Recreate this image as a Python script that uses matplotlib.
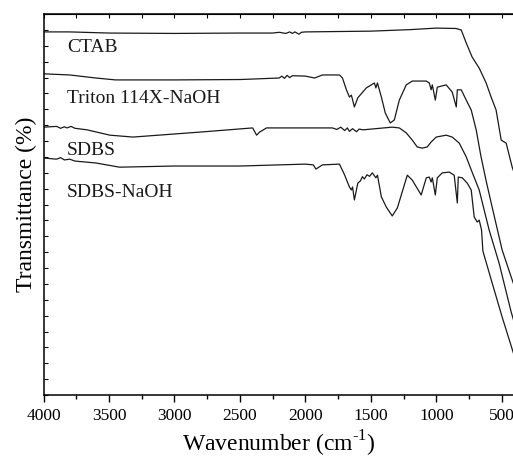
import matplotlib.pyplot as plt
import numpy as np

plt.rcParams['font.family'] = ['Liberation Serif', 'DejaVu Serif']
plt.rcParams['mathtext.fontset'] = 'custom'
plt.rcParams['mathtext.rm'] = 'Liberation Serif'

# wavenumber (cm-1) and transmittance (arbitrary, offset curves)
ctab_wn = [4000, 3800, 3500, 3000, 2500, 2250, 2200, 2150, 2120, 2100, 2080, 2050, 2030,
           2000, 1500, 1200, 1000, 850, 810, 772, 727, 673, 620, 582, 544, 505, 467, 421, 400]
ctab_t = [95.3, 95.3, 95.0, 94.9, 95.0, 95.0, 95.2, 94.9, 95.3, 94.9, 95.3, 94.7, 95.2,
          95.3, 95.5, 95.9, 96.3, 96.2, 95.8, 92.4, 88.7, 85.8, 81.9, 78.2, 74.8, 66.9, 66.1, 59.8, 57.7]

triton_wn = [4000, 3800, 3600, 3450, 3000, 2500, 2200, 2180, 2160, 2140, 2120, 2100, 2000,
             1930, 1870, 1740, 1717, 1687, 1664, 1649, 1626, 1600, 1535, 1473, 1462, 1450,
             1420, 1390, 1352, 1321, 1283, 1230, 1184, 1077, 1054, 1040, 1031, 1008, 993,
             925, 879, 848, 840, 810, 772, 734, 696, 660, 620, 574, 498, 429, 400]
triton_t = [84.3, 84.0, 83.2, 82.7, 82.7, 82.8, 83.2, 83.7, 83.1, 83.9, 83.3, 83.8, 83.7,
            83.2, 84.0, 84.0, 83.2, 80.1, 78.2, 78.7, 75.6, 78.0, 80.6, 81.9, 80.6, 81.9,
            78.2, 74.0, 71.4, 72.2, 77.4, 81.4, 82.4, 82.4, 81.9, 80.1, 81.4, 77.4, 80.8,
            81.4, 79.5, 75.6, 80.1, 80.1, 77.4, 74.8, 69.6, 62.7, 56.2, 49.3, 38.1, 31.0, 28.1]

sdbs_wn = [4000, 3900, 3870, 3840, 3821, 3790, 3760, 3668, 3493, 3317, 2807, 2403, 2373,
           2350, 2297, 1794, 1760, 1730, 1700, 1680, 1664, 1640, 1610, 1590, 1560, 1337,
           1283, 1230, 1184, 1146, 1108, 1070, 1040, 1001, 925, 879, 825, 772, 734, 673,
           597, 521, 429, 400]
sdbs_t = [70.3, 70.5, 70.0, 70.4, 70.1, 70.5, 70.0, 69.6, 68.2, 67.7, 69.0, 70.1, 68.2,
          69.0, 70.1, 70.1, 69.7, 70.3, 69.4, 70.1, 69.2, 69.9, 69.1, 69.8, 69.6, 70.3,
          70.1, 68.8, 66.9, 65.1, 64.8, 65.1, 66.4, 67.7, 68.2, 67.7, 66.1, 62.5, 59.1, 53.8,
          43.3, 34.6, 21.8, 18.4]

sdbsna_wn = [4000, 3900, 3870, 3840, 3800, 3760, 3600, 3420, 3000, 2500, 2200, 2000, 1940,
             1920, 1870, 1740, 1700, 1664, 1649, 1640, 1626, 1600, 1580, 1565, 1550, 1530,
             1510, 1489, 1462, 1450, 1420, 1382, 1337, 1298, 1222, 1184, 1116, 1077, 1054,
             1040, 1031, 1008, 993, 955, 902, 864, 840, 833, 802, 764, 734, 711, 688, 673,
             655, 645, 574, 498, 429, 400]
sdbsna_t = [62.2, 61.9, 62.3, 61.7, 61.9, 61.4, 60.9, 59.8, 60.1, 60.1, 60.4, 60.6, 60.4,
            59.3, 60.4, 60.6, 57.7, 54.6, 53.8, 54.6, 51.2, 55.6, 56.2, 57.3, 56.7, 57.8,
            57.4, 58.3, 57.0, 57.7, 52.0, 49.3, 47.0, 49.1, 57.7, 56.4, 52.5, 57.0, 57.2,
            55.9, 57.0, 52.5, 57.0, 58.3, 58.5, 57.7, 50.4, 57.2, 57.0, 55.6, 53.8, 46.7,
            45.4, 45.9, 43.3, 37.8, 29.4, 20.5, 12.9, 9.7]

labels = ['CTAB', 'Triton 114X-NaOH', 'SDBS', 'SDBS-NaOH']
label_y = [90.0, 76.6, 63.0, 52.0]

fig = plt.figure(figsize=(5.13, 4.62), dpi=100)
ax = fig.add_axes([0.0848, 0.145, 0.919, 0.8247])

for wn, t in [(ctab_wn, ctab_t), (triton_wn, triton_t), (sdbs_wn, sdbs_t), (sdbsna_wn, sdbsna_t)]:
    ax.plot(wn, t, color='#1a1a1a', lw=0.9)

for lab, yy in zip(labels, label_y):
    ax.text(3820, yy, lab, fontsize=14, va='baseline', ha='left', color='#1a1a1a')

ax.set_xlim(4000, 400)
ax.set_ylim(0, 100)
ax.set_xticks([4000, 3500, 3000, 2500, 2000, 1500, 1000, 500])
ax.set_xticks(np.arange(4000, 399, -250), minor=True)
ax.set_yticks(np.linspace(0, 100, 25))
ax.set_yticklabels([])
ax.tick_params(axis='x', which='major', direction='out', length=5, width=1, labelsize=12.5, pad=4)
ax.tick_params(axis='x', which='minor', direction='out', length=3, width=1)
ax.tick_params(axis='y', direction='in', length=3, width=0.8)

top = ax.secondary_xaxis('top')
top.set_xticks(np.arange(4000, 399, -250))
top.set_xticklabels([])
top.tick_params(direction='in', length=3, width=0.8)

for s in ax.spines.values():
    s.set_linewidth(1.1)

ax.set_xlabel('Wavenumber (cm$^{\\mathrm{\u2010}1}$)', fontsize=17, labelpad=4)
ax.set_ylabel('Transmittance (%)', fontsize=17, labelpad=1)

fig.savefig('out.png', dpi=100)
